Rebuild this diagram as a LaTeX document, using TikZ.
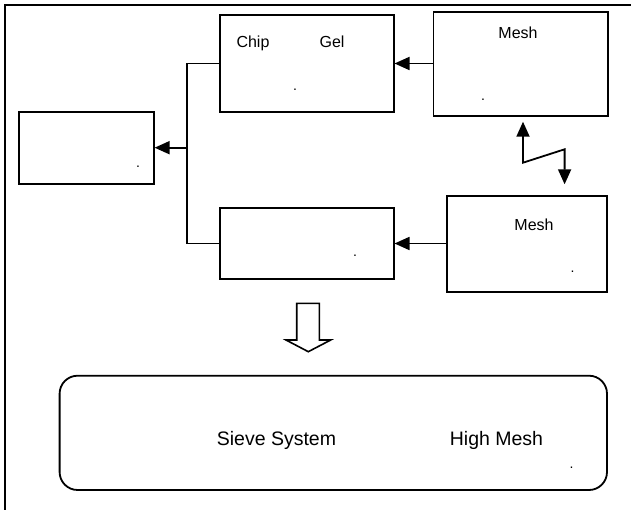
\documentclass[tikz,border=0pt]{standalone}
\usepackage{fontspec}
\setmainfont{Liberation Sans}
\usetikzlibrary{arrows.meta}
\begin{document}
\begin{tikzpicture}[x=1pt,y=-1pt,
  box/.style={draw,line width=1.8pt,inner sep=0pt,rectangle},
  conn/.style={line width=1.8pt},
  arr/.style={line width=1.8pt,-{Triangle[length=15pt,width=13pt]}},
  lbl/.style={inner sep=0pt,anchor=base,font=\fontsize{16}{18}\selectfont},
  big/.style={inner sep=0pt,anchor=base,font=\fontsize{19.5}{22}\selectfont},
  dot/.style={inner sep=0pt,anchor=base,font=\fontsize{14}{16}\selectfont}]
\useasboundingbox (0,0) rectangle (631,510);
% outer frame
\draw[line width=1.8pt] (5,515) -- (5,5) -- (636,5);
% boxes
\node[box,minimum width=173.9pt,minimum height=96.4pt] (chip) at (306.65,63.5) {};
\node[box,minimum width=174.2pt,minimum height=104.3pt] (meshA) at (520.5,63.85) {};
\node[box,minimum width=134.7pt,minimum height=72pt] (left) at (86.35,147.7) {};
\node[box,minimum width=173.9pt,minimum height=71.6pt] (mid) at (306.65,243.5) {};
\node[box,minimum width=160.1pt,minimum height=96.6pt] (meshB) at (526.75,244) {};
\node[box,rounded corners=18pt,minimum width=547.4pt,minimum height=114.3pt] (sieve) at (333.3,432.85) {};
% texts
\node[lbl] (tchip) at (253,48) {Chip};
\node[lbl] (tgel) at (332,48) {Gel};
\node[lbl] (tmeshA) at (518,38.3) {Mesh};
\node[lbl] (tmeshB) at (534,230.7) {Mesh};
\node[big] (tsieve) at (276.5,445) {Sieve System};
\node[big] (thigh) at (496.5,445) {High Mesh};
% dots
\node[dot] (d1) at (295,90.5) {.};
\node[dot] (d2) at (483,100.8) {.};
\node[dot] (d3) at (138,167.2) {.};
\node[dot] (d4) at (355,256.2) {.};
\node[dot] (d5) at (572.6,272.2) {.};
\node[dot] (d6) at (571.5,468.5) {.};
% connectors
\draw[arr] (meshA.west |- chip.east) -- (chip.east);
\coordinate (j) at (186.7,147.7);
\draw[conn] (chip.west) -| (j) |- (mid.west);
\draw[arr] (j) -- (left.east);
\draw[arr] (meshB.west |- mid.east) -- (mid.east);
% zigzag double arrow
\coordinate (tipA) at (523,121.7);
\coordinate (z1) at (523,162.7);
\coordinate (z2) at (564.6,149.3);
\coordinate (tipB) at (564.6,184.3);
\draw[line width=1.8pt,{Triangle[length=15pt,width=13pt]}-{Triangle[length=15pt,width=13pt]}] (tipA) -- (z1) -- (z2) -- (tipB);
% hollow arrow
\draw[line width=1.6pt,line join=miter] (296.7,303.3) -- (319.3,303.3) -- (319.3,340) -- (330.7,340) -- (308.3,351.7) -- (286,340) -- (296.7,340) -- cycle;
\end{tikzpicture}
\end{document}
